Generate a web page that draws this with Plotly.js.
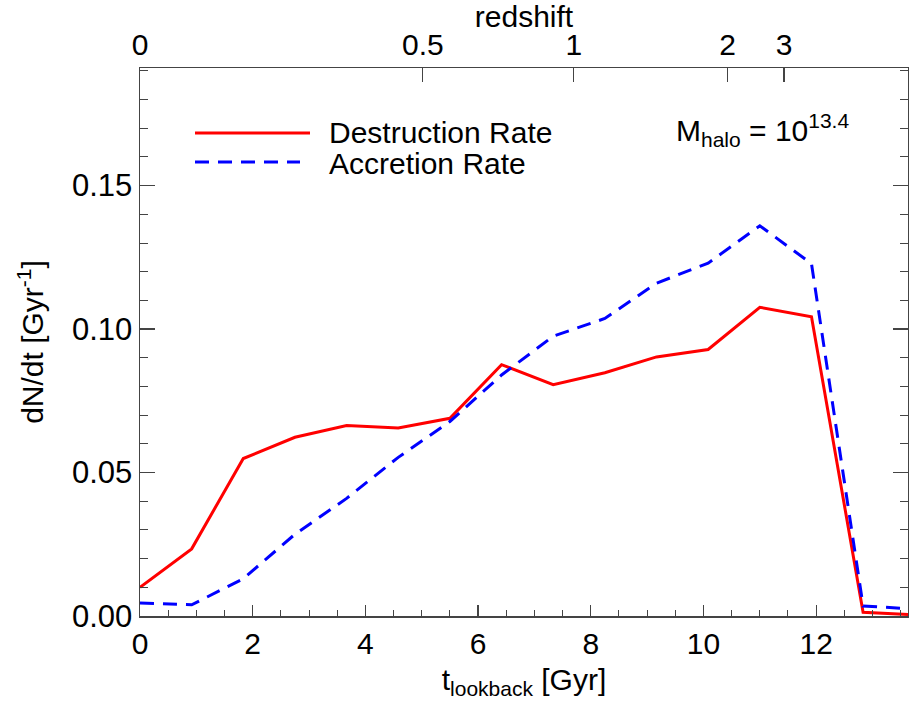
<!DOCTYPE html>
<html>
<head>
<meta charset="utf-8">
<script src="https://cdn.plot.ly/plotly-3.0.1.min.js"></script>
<style>html,body{margin:0;padding:0;background:#fff;}#chart{width:909px;height:702px;}</style>
</head>
<body>
<div id="chart"></div>
<script>
// lookback time bins [Gyr]
const tLookback = [0, 0.917, 1.833, 2.75, 3.667, 4.583, 5.5, 6.417, 7.333, 8.25, 9.167, 10.083, 11.0, 11.917, 12.833, 13.75];
// destruction rate dN/dt [Gyr^-1]
const destructionRate = [0.0100, 0.0234, 0.0549, 0.0623, 0.0664, 0.0655, 0.0689, 0.0876, 0.0806, 0.0848, 0.0903, 0.0929, 0.1076, 0.1043, 0.0013, 0.0004];
// accretion rate dN/dt [Gyr^-1]
const accretionRate = [0.0045, 0.0039, 0.0130, 0.0285, 0.0410, 0.0553, 0.0678, 0.0840, 0.0975, 0.1037, 0.1160, 0.1230, 0.1360, 0.1228, 0.0035, 0.0024];
// top axis: redshift labels and their lookback times [Gyr]
const redshiftLabels = ['0', '0.5', '1', '2', '3'];
const redshiftLookback = [0, 5.02, 7.70, 10.43, 11.43];
const xRange = [0, 13.63];
const yRange = [0, 0.191];

const FONT = 'Liberation Sans, Arial, Helvetica, sans-serif';
const AX = '#444';

const traces = [
  {x: tLookback, y: destructionRate, type: 'scatter', mode: 'lines', name: 'Destruction Rate',
   line: {color: '#ff0000', width: 3}, showlegend: false},
  {x: tLookback, y: accretionRate, type: 'scatter', mode: 'lines', name: 'Accretion Rate',
   line: {color: '#0000ff', width: 3, dash: '14px,9px'}, showlegend: false},
  {x: xRange, y: [null, null], xaxis: 'x2', yaxis: 'y', type: 'scatter', mode: 'lines', showlegend: false, hoverinfo: 'skip'}
];

const layout = {
  width: 909, height: 702,
  margin: {l: 140, r: 1, t: 68, b: 86, pad: 0},
  paper_bgcolor: '#fff', plot_bgcolor: '#fff',
  font: {family: FONT, size: 30, color: '#000'},
  showlegend: false,
  xaxis: {
    range: xRange, showgrid: false, zeroline: false,
    showline: true, linecolor: AX, linewidth: 1.5, mirror: false,
    ticks: 'inside', ticklen: 11, tickwidth: 1.2, tickcolor: AX,
    tickmode: 'linear', tick0: 0, dtick: 2,
    minor: {ticks: 'inside', ticklen: 6, tickwidth: 1, tickcolor: AX, dtick: 0.5, tick0: 0, showgrid: false},
    tickfont: {family: FONT, size: 30, color: '#000'},
    title: {text: 't<sub>lookback</sub> [Gyr]', font: {family: FONT, size: 30}, standoff: 10}
  },
  xaxis2: {
    overlaying: 'x', side: 'top', anchor: 'y',
    range: xRange, showgrid: false, zeroline: false,
    showline: true, linecolor: AX, linewidth: 1.5,
    ticks: 'inside', ticklen: 14, tickwidth: 1.2, tickcolor: AX,
    tickmode: 'array', tickvals: redshiftLookback, ticktext: redshiftLabels,
    tickfont: {family: FONT, size: 30, color: '#000'},
    title: {text: 'redshift', font: {family: FONT, size: 30}, standoff: 2}
  },
  yaxis: {
    range: yRange, showgrid: false, zeroline: false,
    showline: true, linecolor: AX, linewidth: 1.5, mirror: 'ticks',
    ticks: 'inside', ticklen: 15, tickwidth: 1.2, tickcolor: AX,
    tickmode: 'linear', tick0: 0, dtick: 0.05, tickformat: '.2f',
    minor: {ticks: 'inside', ticklen: 8, tickwidth: 1, tickcolor: AX, dtick: 0.01, tick0: 0, showgrid: false},
    tickfont: {family: FONT, size: 31, color: '#000'},
    title: {text: 'dN/dt [Gyr<sup>-1</sup>]', font: {family: FONT, size: 30}, standoff: 19}
  },
  shapes: [
    {type: 'line', xref: 'paper', yref: 'paper', x0: (195-140)/768, x1: (310-140)/768,
     y0: (615.5-133)/547.5, y1: (615.5-133)/547.5, line: {color: '#ff0000', width: 3}},
    {type: 'line', xref: 'paper', yref: 'paper', x0: (195-140)/768, x1: (300-140)/768,
     y0: (615.5-162)/547.5, y1: (615.5-162)/547.5, line: {color: '#0000ff', width: 3, dash: '14px,9px'}}
  ],
  annotations: [
    {xref: 'paper', yref: 'paper', x: (327-140)/768, y: (615.5-132)/547.5, xanchor: 'left', yanchor: 'middle',
     text: 'Destruction Rate', showarrow: false, font: {family: FONT, size: 30, color: '#000'}},
    {xref: 'paper', yref: 'paper', x: (327-140)/768, y: (615.5-163)/547.5, xanchor: 'left', yanchor: 'middle',
     text: 'Accretion Rate', showarrow: false, font: {family: FONT, size: 30, color: '#000'}},
    {xref: 'paper', yref: 'paper', x: (674-140)/768, y: (615.5-130)/547.5, xanchor: 'left', yanchor: 'middle',
     text: 'M<sub>halo</sub> = 10<sup>13.4</sup>', showarrow: false, font: {family: FONT, size: 30, color: '#000'}}
  ]
};

Plotly.newPlot('chart', traces, layout, {staticPlot: true, displayModeBar: false});
</script>
</body>
</html>
